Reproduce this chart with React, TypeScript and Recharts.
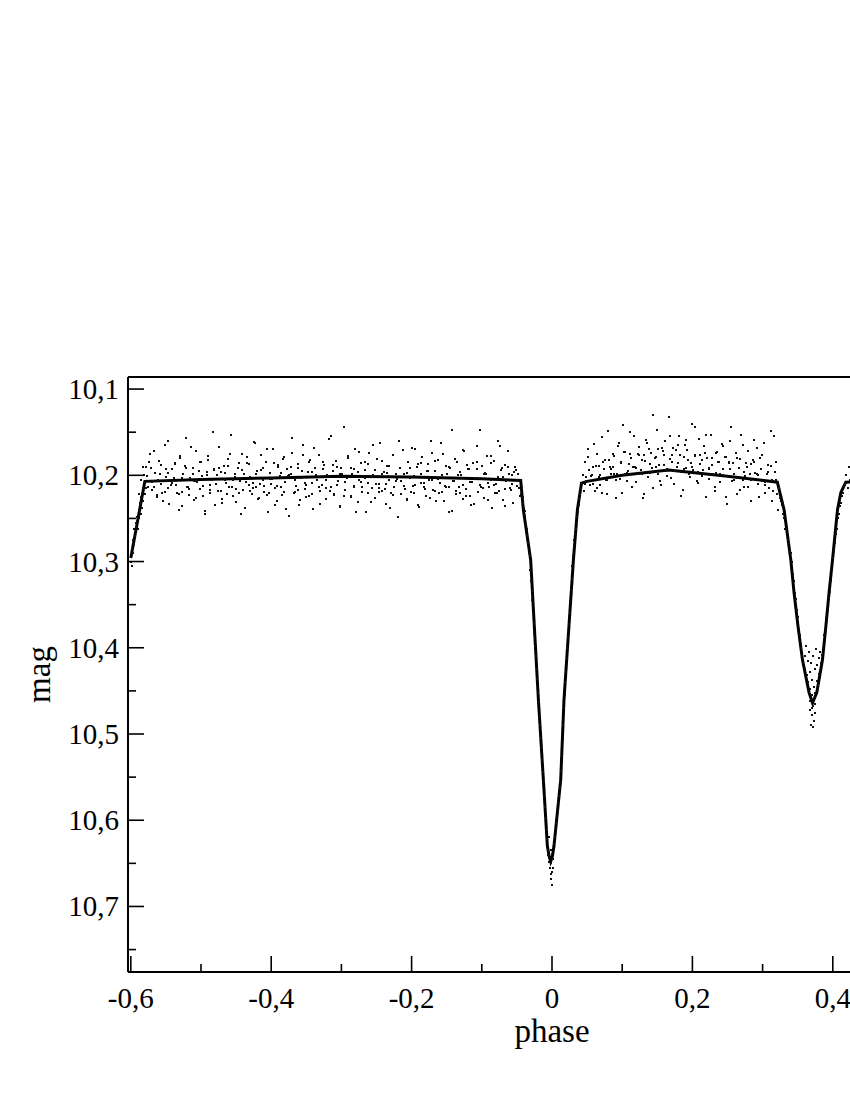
import { ComposedChart, Scatter, Line, XAxis, YAxis } from 'recharts';

// solid model curve
const modelPhase = [-0.6, -0.58, -0.5, -0.4, -0.3, -0.2, -0.1, -0.0446, -0.0408, -0.0304, -0.0194, -0.0123, -0.0066, -0.004, -0.0019, 0.0005, 0.0028, 0.0124, 0.0171, 0.0305, 0.0362, 0.042, 0.05, 0.1, 0.166, 0.25, 0.321, 0.3306, 0.3402, 0.3448, 0.3506, 0.3568, 0.3662, 0.3711, 0.3772, 0.3853, 0.39, 0.3947, 0.3996, 0.4067, 0.4115, 0.4185, 0.5, 0.6];
const modelMag = [10.296, 10.207, 10.205, 10.203, 10.201, 10.202, 10.204, 10.206, 10.24, 10.298, 10.46, 10.553, 10.63, 10.642, 10.648, 10.642, 10.63, 10.553, 10.46, 10.298, 10.24, 10.209, 10.207, 10.2, 10.194, 10.201, 10.208, 10.24, 10.298, 10.336, 10.376, 10.414, 10.452, 10.464, 10.452, 10.414, 10.376, 10.336, 10.298, 10.24, 10.22, 10.208, 10.206, 10.205];

// observed points [phase, mag]
const edgeDots = [[-0.6,10.3],[-0.599,10.285],[-0.598,10.29],[-0.597,10.275],[-0.596,10.28],[-0.595,10.262],[-0.594,10.27],[-0.593,10.255],[-0.592,10.26],[-0.591,10.248],[-0.59,10.262],[-0.589,10.24],[-0.588,10.25],[-0.587,10.232],[-0.586,10.245],[-0.585,10.225],[-0.584,10.238],[-0.583,10.215],[-0.582,10.23],[-0.581,10.2],[-0.58,10.222],[-0.599,10.305],[-0.597,10.29],[-0.595,10.275],[-0.589,10.222],[-0.586,10.205],[-0.583,10.19]];

const flatDots = [[-0.578,10.19],[-0.575,10.213],[-0.573,10.175],[-0.57,10.217],[-0.568,10.207],[-0.565,10.197],[-0.562,10.225],[-0.56,10.183],[-0.557,10.21],[-0.555,10.22],
[-0.552,10.165],[-0.55,10.202],[-0.547,10.215],[-0.545,10.233],[-0.542,10.193],[-0.54,10.205],[-0.537,10.187],[-0.535,10.211],[-0.532,10.24],[-0.53,10.18],
[-0.527,10.219],[-0.525,10.199],[-0.522,10.157],[-0.52,10.214],[-0.517,10.223],[-0.515,10.203],[-0.512,10.191],[-0.51,10.229],[-0.507,10.172],[-0.505,10.208],
[-0.502,10.216],[-0.5,10.185],[-0.497,10.212],[-0.495,10.245],[-0.492,10.196],[-0.49,10.178],[-0.487,10.221],[-0.485,10.206],[-0.482,10.194],[-0.48,10.235],
[-0.477,10.2],[-0.475,10.167],[-0.472,10.218],[-0.47,10.227],[-0.467,10.189],[-0.465,10.209],[-0.462,10.181],[-0.46,10.214],[-0.457,10.153],[-0.455,10.224],
[-0.452,10.198],[-0.45,10.231],[-0.447,10.192],[-0.445,10.207],[-0.442,10.175],[-0.44,10.217],[-0.437,10.238],[-0.435,10.186],[-0.432,10.211],[-0.43,10.202],
[-0.427,10.222],[-0.425,10.161],[-0.422,10.213],[-0.42,10.195],[-0.417,10.226],[-0.415,10.177],[-0.412,10.205],[-0.41,10.219],[-0.407,10.184],[-0.405,10.243],
[-0.402,10.197],[-0.4,10.21],[-0.397,10.17],[-0.395,10.215],[-0.392,10.23],[-0.39,10.19],[-0.387,10.201],[-0.385,10.223],[-0.382,10.179],[-0.38,10.208],
[-0.377,10.193],[-0.375,10.247],[-0.372,10.199],[-0.37,10.174],[-0.367,10.22],[-0.365,10.212],[-0.362,10.187],[-0.36,10.234],[-0.357,10.203],[-0.355,10.165],
[-0.352,10.216],[-0.35,10.225],[-0.347,10.196],[-0.345,10.182],[-0.342,10.209],[-0.34,10.239],[-0.337,10.191],[-0.335,10.206],[-0.332,10.176],[-0.33,10.218],
[-0.327,10.211],[-0.325,10.188],[-0.322,10.228],[-0.32,10.2],[-0.317,10.158],[-0.315,10.214],[-0.312,10.195],[-0.31,10.222],[-0.307,10.183],[-0.305,10.207],
[-0.302,10.236],[-0.3,10.192],[-0.297,10.144],[-0.295,10.217],[-0.292,10.203],[-0.29,10.178],[-0.287,10.224],[-0.285,10.198],[-0.282,10.212],[-0.28,10.169],
[-0.277,10.231],[-0.275,10.205],[-0.272,10.186],[-0.27,10.219],[-0.267,10.194],[-0.265,10.242],[-0.262,10.209],[-0.26,10.174],[-0.257,10.215],[-0.255,10.2],
[-0.252,10.226],[-0.25,10.181],[-0.247,10.21],[-0.245,10.163],[-0.242,10.218],[-0.24,10.196],[-0.237,10.233],[-0.235,10.189],[-0.232,10.206],[-0.23,10.221],
[-0.227,10.177],[-0.225,10.213],[-0.222,10.199],[-0.22,10.248],[-0.217,10.192],[-0.215,10.207],[-0.212,10.171],[-0.21,10.216],[-0.207,10.229],[-0.205,10.185],
[-0.202,10.203],[-0.2,10.168],[-0.197,10.22],[-0.195,10.211],[-0.192,10.19],[-0.19,10.237],[-0.187,10.198],[-0.185,10.179],[-0.182,10.214],[-0.18,10.224],
[-0.177,10.187],[-0.175,10.205],[-0.172,10.16],[-0.17,10.217],[-0.167,10.195],[-0.165,10.23],[-0.162,10.182],[-0.16,10.209],[-0.157,10.219],[-0.155,10.175],
[-0.152,10.212],[-0.15,10.198],[-0.147,10.243],[-0.145,10.191],[-0.142,10.148],[-0.14,10.207],[-0.137,10.222],[-0.135,10.184],[-0.132,10.213],[-0.13,10.2],
[-0.127,10.227],[-0.125,10.172],[-0.122,10.216],[-0.12,10.193],[-0.117,10.208],[-0.115,10.235],[-0.112,10.186],[-0.11,10.203],[-0.107,10.166],[-0.105,10.219],
[-0.102,10.211],[-0.1,10.189],[-0.097,10.226],[-0.095,10.197],[-0.092,10.178],[-0.09,10.214],[-0.087,10.205],[-0.085,10.238],[-0.082,10.183],[-0.08,10.21],
[-0.077,10.16],[-0.075,10.218],[-0.072,10.194],[-0.07,10.229],[-0.067,10.188],[-0.065,10.207],[-0.062,10.172],[-0.06,10.215],[-0.057,10.2],[-0.055,10.232],
[-0.052,10.19],[-0.05,10.212],[-0.048,10.198],[-0.046,10.224]];

const flatDotsB = [[-0.5785,10.215],[-0.5745,10.185],[-0.5705,10.208],[-0.5665,10.172],[-0.5625,10.223],[-0.5585,10.198],[-0.5545,10.23],[-0.5505,10.193],[-0.5465,10.16],[-0.5425,10.211],
[-0.5385,10.203],[-0.5345,10.22],[-0.5305,10.178],[-0.5265,10.236],[-0.5225,10.189],[-0.5185,10.213],[-0.5145,10.167],[-0.5105,10.207],[-0.5065,10.226],[-0.5025,10.195],
[-0.4985,10.201],[-0.4945,10.241],[-0.4905,10.182],[-0.4865,10.217],[-0.4825,10.15],[-0.4785,10.21],[-0.4745,10.191],[-0.4705,10.232],[-0.4665,10.197],[-0.4625,10.222],
[-0.4585,10.175],[-0.4545,10.205],[-0.4505,10.216],[-0.4465,10.186],[-0.4425,10.245],[-0.4385,10.199],[-0.4345,10.179],[-0.4305,10.218],[-0.4265,10.209],[-0.4225,10.163],
[-0.4185,10.227],[-0.4145,10.194],[-0.4105,10.212],[-0.4065,10.17],[-0.4025,10.221],[-0.3985,10.204],[-0.3945,10.234],[-0.3905,10.188],[-0.3865,10.214],[-0.3825,10.181],
[-0.3785,10.239],[-0.3745,10.2],[-0.3705,10.157],[-0.3665,10.219],[-0.3625,10.192],[-0.3585,10.229],[-0.3545,10.176],[-0.3505,10.211],[-0.3465,10.224],[-0.3425,10.196],
[-0.3385,10.168],[-0.3345,10.206],[-0.3305,10.233],[-0.3265,10.184],[-0.3225,10.215],[-0.3185,10.202],[-0.3145,10.155],[-0.3105,10.223],[-0.3065,10.19],[-0.3025,10.237],
[-0.2985,10.198],[-0.2945,10.208],[-0.2905,10.18],[-0.2865,10.225],[-0.2825,10.193],[-0.2785,10.243],[-0.2745,10.173],[-0.2705,10.213],[-0.2665,10.203],[-0.2625,10.187],
[-0.2585,10.231],[-0.2545,10.165],[-0.2505,10.21],[-0.2465,10.219],[-0.2425,10.183],[-0.2385,10.216],[-0.2345,10.197],[-0.2305,10.238],[-0.2265,10.177],[-0.2225,10.207],
[-0.2185,10.16],[-0.2145,10.222],[-0.2105,10.199],[-0.2065,10.228],[-0.2025,10.191],[-0.1985,10.212],[-0.1945,10.169],[-0.1905,10.235],[-0.1865,10.186],[-0.1825,10.209],
[-0.1785,10.195],[-0.1745,10.226],[-0.1705,10.174],[-0.1665,10.218],[-0.1625,10.204],[-0.1585,10.162],[-0.1545,10.23],[-0.1505,10.189],[-0.1465,10.214],[-0.1425,10.241],
[-0.1385,10.181],[-0.1345,10.2],[-0.1305,10.22],[-0.1265,10.171],[-0.1225,10.224],[-0.1185,10.193],[-0.1145,10.208],[-0.1105,10.233],[-0.1065,10.185],[-0.1025,10.147],
[-0.0985,10.215],[-0.0945,10.198],[-0.0905,10.229],[-0.0865,10.178],[-0.0825,10.211],[-0.0785,10.221],[-0.0745,10.166],[-0.0705,10.202],[-0.0665,10.236],[-0.0625,10.19],
[-0.0585,10.217],[-0.0545,10.196],[-0.0505,10.206]];

const flatCoreDots = [[-0.5765,10.201],[-0.5715,10.192],[-0.5665,10.214],[-0.5615,10.205],[-0.5565,10.188],[-0.5515,10.219],[-0.5465,10.197],[-0.5415,10.209],[-0.5365,10.186],[-0.5315,10.222],
[-0.5265,10.203],[-0.5215,10.191],[-0.5165,10.216],[-0.5115,10.198],[-0.5065,10.207],[-0.5015,10.184],[-0.4965,10.224],[-0.4915,10.2],[-0.4865,10.211],[-0.4815,10.193],
[-0.4765,10.218],[-0.4715,10.196],[-0.4665,10.205],[-0.4615,10.189],[-0.4565,10.213],[-0.4515,10.202],[-0.4465,10.221],[-0.4415,10.194],[-0.4365,10.208],[-0.4315,10.187],
[-0.4265,10.215],[-0.4215,10.199],[-0.4165,10.21],[-0.4115,10.192],[-0.4065,10.223],[-0.4015,10.204],[-0.3965,10.186],[-0.3915,10.212],[-0.3865,10.197],[-0.3815,10.219],
[-0.3765,10.201],[-0.3715,10.19],[-0.3665,10.206],[-0.3615,10.217],[-0.3565,10.195],[-0.3515,10.209],[-0.3465,10.184],[-0.3415,10.222],[-0.3365,10.2],[-0.3315,10.213],
[-0.3265,10.193],[-0.3215,10.205],[-0.3165,10.218],[-0.3115,10.188],[-0.3065,10.211],[-0.3015,10.198],[-0.2965,10.224],[-0.2915,10.203],[-0.2865,10.191],[-0.2815,10.214],
[-0.2765,10.196],[-0.2715,10.208],[-0.2665,10.185],[-0.2615,10.22],[-0.2565,10.202],[-0.2515,10.194],[-0.2465,10.215],[-0.2415,10.199],[-0.2365,10.21],[-0.2315,10.189],
[-0.2265,10.223],[-0.2215,10.204],[-0.2165,10.192],[-0.2115,10.212],[-0.2065,10.197],[-0.2015,10.219],[-0.1965,10.201],[-0.1915,10.187],[-0.1865,10.209],[-0.1815,10.216],
[-0.1765,10.195],[-0.1715,10.206],[-0.1665,10.183],[-0.1615,10.221],[-0.1565,10.2],[-0.1515,10.213],[-0.1465,10.19],[-0.1415,10.207],[-0.1365,10.218],[-0.1315,10.196],
[-0.1265,10.211],[-0.1215,10.188],[-0.1165,10.224],[-0.1115,10.203],[-0.1065,10.193],[-0.1015,10.214],[-0.0965,10.198],[-0.0915,10.209],[-0.0865,10.186],[-0.0815,10.22],
[-0.0765,10.202],[-0.0715,10.191],[-0.0665,10.216],[-0.0615,10.199],[-0.0565,10.21],[-0.0515,10.194]];

const primaryInDots = [[-0.047,10.215],[-0.0455,10.205],[-0.0445,10.222],[-0.043,10.215],[-0.042,10.232],[-0.041,10.225],[-0.04,10.238],[-0.039,10.241],[-0.038,10.247],[-0.037,10.258],
[-0.036,10.262],[-0.035,10.27],[-0.034,10.279],[-0.033,10.29],[-0.032,10.294],[-0.031,10.31],[-0.03,10.322],[-0.029,10.334],[-0.028,10.345],[-0.027,10.36],
[-0.026,10.372],[-0.025,10.383],[-0.024,10.398],[-0.023,10.41],[-0.022,10.425],[-0.021,10.436],[-0.02,10.452],[-0.019,10.463],[-0.018,10.48],[-0.017,10.49],
[-0.016,10.505],[-0.015,10.516],[-0.014,10.53],[-0.013,10.544],[-0.012,10.556],[-0.011,10.572],[-0.01,10.585],[-0.009,10.597],[-0.008,10.611],[-0.007,10.622],
[-0.006,10.634],[-0.005,10.64],[-0.004,10.648],[-0.003,10.655],[-0.002,10.662],[-0.001,10.668],[0,10.675],[-0.0015,10.65],[0.0005,10.66],[-0.004,10.62],[-0.002,10.635]];

const primaryOutDots = [[0.001,10.655],[0.002,10.645],[0.003,10.628],[0.004,10.62],[0.005,10.61],[0.006,10.603],[0.007,10.595],[0.008,10.588],[0.009,10.58],[0.01,10.572],
[0.011,10.563],[0.012,10.556],[0.013,10.543],[0.014,10.525],[0.015,10.507],[0.016,10.49],[0.017,10.47],[0.018,10.455],[0.019,10.44],[0.02,10.428],
[0.021,10.413],[0.022,10.4],[0.023,10.388],[0.024,10.373],[0.025,10.36],[0.026,10.347],[0.027,10.333],[0.028,10.32],[0.029,10.305],[0.03,10.294],
[0.031,10.283],[0.032,10.275],[0.033,10.268],[0.034,10.262],[0.035,10.254],[0.036,10.248],[0.037,10.243],[0.038,10.235],[0.039,10.228],[0.04,10.222],
[0.041,10.216],[0.0425,10.21],[0.044,10.2],[0.045,10.218]];

const midDots = [[0.0465,10.185],[0.049,10.207],[0.0515,10.169],[0.054,10.211],[0.0565,10.2],[0.059,10.19],[0.0615,10.218],[0.064,10.175],[0.0665,10.202],[0.069,10.211],
[0.0715,10.156],[0.074,10.193],[0.0765,10.205],[0.079,10.222],[0.0815,10.182],[0.084,10.193],[0.0865,10.175],[0.089,10.198],[0.0915,10.226],[0.094,10.166],
[0.0965,10.204],[0.099,10.184],[0.1015,10.142],[0.104,10.199],[0.1065,10.207],[0.109,10.187],[0.1115,10.175],[0.114,10.213],[0.1165,10.155],[0.119,10.191],
[0.1215,10.198],[0.124,10.167],[0.1265,10.194],[0.129,10.226],[0.1315,10.177],[0.134,10.159],[0.1365,10.202],[0.139,10.187],[0.1415,10.174],[0.144,10.215],
[0.1465,10.18],[0.149,10.147],[0.1515,10.198],[0.154,10.207],[0.1565,10.168],[0.159,10.188],[0.1615,10.16],[0.164,10.193],[0.1665,10.132],[0.169,10.203],
[0.1715,10.177],[0.174,10.21],[0.1765,10.171],[0.179,10.186],[0.1815,10.154],[0.184,10.196],[0.1865,10.217],[0.189,10.165],[0.1915,10.191],[0.194,10.182],
[0.1965,10.202],[0.199,10.141],[0.2015,10.194],[0.204,10.176],[0.2065,10.207],[0.209,10.158],[0.2115,10.187],[0.214,10.201],[0.2165,10.166],[0.219,10.225],
[0.2215,10.18],[0.224,10.193],[0.2265,10.153],[0.229,10.198],[0.2315,10.214],[0.234,10.174],[0.2365,10.185],[0.239,10.208],[0.2415,10.164],[0.244,10.193],
[0.2465,10.179],[0.249,10.233],[0.2515,10.185],[0.254,10.16],[0.2565,10.207],[0.259,10.199],[0.2615,10.174],[0.264,10.222],[0.2665,10.191],[0.269,10.153],
[0.2715,10.205],[0.274,10.214],[0.2765,10.186],[0.279,10.172],[0.2815,10.199],[0.284,10.23],[0.2865,10.182],[0.289,10.197],[0.2915,10.168],[0.294,10.21],
[0.2965,10.18],[0.299,10.207],[0.3015,10.162],[0.304,10.221],[0.3065,10.198],[0.309,10.215],[0.3115,10.189],[0.314,10.23],[0.3165,10.155],[0.319,10.206],
[0.321,10.222],[0.3225,10.24]];

const midDotsB = [[0.0475,10.21],[0.0515,10.179],[0.0555,10.201],[0.0595,10.164],[0.0635,10.215],[0.0675,10.189],[0.0715,10.22],[0.0755,10.182],[0.0795,10.149],[0.0835,10.199],
[0.0875,10.19],[0.0915,10.206],[0.0955,10.163],[0.0995,10.221],[0.1035,10.173],[0.1075,10.197],[0.1115,10.15],[0.1155,10.19],[0.1195,10.208],[0.1235,10.177],
[0.1275,10.182],[0.1315,10.222],[0.1355,10.163],[0.1395,10.197],[0.1435,10.13],[0.1475,10.19],[0.1515,10.17],[0.1555,10.211],[0.1595,10.176],[0.1635,10.201],
[0.1675,10.154],[0.1715,10.184],[0.1755,10.195],[0.1795,10.165],[0.1835,10.224],[0.1875,10.179],[0.1915,10.159],[0.1955,10.198],[0.1995,10.19],[0.2035,10.144],
[0.2075,10.209],[0.2115,10.176],[0.2155,10.194],[0.2195,10.153],[0.2235,10.204],[0.2275,10.188],[0.2315,10.218],[0.2355,10.173],[0.2395,10.199],[0.2435,10.166],
[0.2475,10.225],[0.2515,10.186],[0.2555,10.144],[0.2595,10.206],[0.2635,10.18],[0.2675,10.217],[0.2715,10.165],[0.2755,10.201],[0.2795,10.214],[0.2835,10.187],
[0.2875,10.159],[0.2915,10.198],[0.2955,10.225],[0.2995,10.177],[0.3035,10.208],[0.3075,10.196],[0.3115,10.149],[0.3155,10.218],[0.3195,10.185]];

const midCoreDots = [[0.048,10.202],[0.053,10.194],[0.058,10.21],[0.063,10.189],[0.068,10.2],[0.073,10.185],[0.078,10.205],[0.083,10.19],[0.088,10.178],[0.093,10.199],
[0.098,10.186],[0.103,10.173],[0.108,10.195],[0.113,10.18],[0.118,10.19],[0.123,10.175],[0.128,10.198],[0.133,10.183],[0.138,10.17],[0.143,10.192],
[0.148,10.179],[0.153,10.188],[0.158,10.172],[0.163,10.195],[0.168,10.181],[0.173,10.168],[0.178,10.19],[0.183,10.176],[0.188,10.193],[0.193,10.171],
[0.198,10.186],[0.203,10.178],[0.208,10.196],[0.213,10.182],[0.218,10.174],[0.223,10.191],[0.228,10.18],[0.233,10.197],[0.238,10.184],[0.243,10.2],
[0.248,10.179],[0.253,10.193],[0.258,10.186],[0.263,10.203],[0.268,10.181],[0.273,10.196],[0.278,10.19],[0.283,10.205],[0.288,10.185],[0.293,10.2],
[0.298,10.193],[0.303,10.211],[0.308,10.188],[0.313,10.205],[0.318,10.196]];

const secondaryInDots = [[0.3235,10.215],[0.325,10.226],[0.3265,10.23],[0.328,10.235],[0.3295,10.245],[0.331,10.25],[0.3325,10.262],[0.334,10.262],[0.3355,10.275],[0.337,10.278],
[0.3385,10.288],[0.34,10.29],[0.3415,10.3],[0.343,10.315],[0.3445,10.322],[0.346,10.336],[0.3475,10.343],[0.349,10.356],[0.3505,10.364],[0.352,10.378],
[0.3535,10.385],[0.355,10.4],[0.3565,10.41],[0.358,10.418]];

const secondaryBottomDots = [[0.36,10.41],[0.361,10.425],[0.362,10.398],[0.363,10.432],[0.364,10.415],[0.365,10.44],[0.366,10.405],[0.367,10.428],[0.368,10.448],[0.369,10.418],
[0.37,10.437],[0.371,10.455],[0.372,10.41],[0.373,10.445],[0.374,10.425],[0.375,10.452],[0.376,10.402],[0.377,10.438],[0.378,10.42],[0.379,10.443],
[0.38,10.412],[0.381,10.43],[0.382,10.405],[0.383,10.418],[0.37,10.47],[0.371,10.478],[0.372,10.468],[0.373,10.485],[0.368,10.472],[0.374,10.476],
[0.369,10.49],[0.372,10.492],[0.375,10.465],[0.367,10.462]];

const secondaryOutDots = [[0.385,10.408],[0.3865,10.4],[0.388,10.385],[0.3895,10.378],[0.391,10.365],[0.3925,10.356],[0.394,10.342],[0.3955,10.335],[0.397,10.322],[0.3985,10.31],
[0.4,10.296],[0.4015,10.286],[0.403,10.278],[0.4045,10.268],[0.406,10.262],[0.4075,10.25],[0.409,10.245],[0.4105,10.236],[0.412,10.232],[0.4135,10.224],
[0.415,10.22],[0.4165,10.212],[0.418,10.21],[0.4195,10.2],[0.421,10.215],[0.4225,10.19],[0.424,10.205],[0.4255,10.22],[0.427,10.185],[0.4285,10.21],[0.43,10.198]];

// ticks
const xMajorTicks = [-0.6, -0.4, -0.2, 0, 0.2, 0.4, 0.6];
const xMinorTicks = [-0.5, -0.3, -0.1, 0.1, 0.3, 0.5];
const yMajorTicks = [10.1, 10.2, 10.3, 10.4, 10.5, 10.6, 10.7];
const yMinorTicks = [10.15, 10.25, 10.35, 10.45, 10.55, 10.65, 10.75];

const FONT = "'Liberation Serif', 'DejaVu Serif', 'Times New Roman', serif";

const toPoints = (arr: number[][]) => arr.map(([phase, mag]) => ({ phase, mag }));

const dots = toPoints([
  ...edgeDots, ...flatDots, ...flatDotsB, ...flatCoreDots, ...primaryInDots, ...primaryOutDots,
  ...midDots, ...midDotsB, ...midCoreDots, ...secondaryInDots, ...secondaryBottomDots, ...secondaryOutDots,
]);
const model = modelPhase.map((phase, i) => ({ phase, mag: modelMag[i] }));

const xTicks = [...xMajorTicks, ...xMinorTicks].sort((a, b) => a - b);
const yTicks = [...yMajorTicks, ...yMinorTicks].sort((a, b) => a - b);

const fmt = (v: number) => (v === 0 ? '0' : String(v).replace('.', ','));

function XTick(props: any) {
  const { x, y, payload, top } = props;
  const major = xMajorTicks.includes(payload.value);
  const len = major ? 16 : 8;
  return (
    <g>
      <line x1={x} x2={x} y1={y} y2={top ? y + len : y - len} stroke="#000" strokeWidth={1.6} />
      {!top && major && (
        <text x={x} y={y + 36} textAnchor="middle" fontSize={29} fontFamily={FONT} fill="#000">
          {fmt(payload.value)}
        </text>
      )}
    </g>
  );
}

function YTick(props: any) {
  const { x, y, payload } = props;
  const major = yMajorTicks.includes(payload.value);
  const len = major ? 16 : 8;
  return (
    <g>
      <line x1={x} x2={x + len} y1={y} y2={y} stroke="#000" strokeWidth={1.6} />
      {major && (
        <text x={x - 9} y={y + 10} textAnchor="end" fontSize={29} fontFamily={FONT} fill="#000">
          {fmt(payload.value)}
        </text>
      )}
    </g>
  );
}

// tiny square marker snapped to the pixel grid
const Dot = (props: any) => (
  <rect x={Math.round(props.cx) - 1} y={Math.round(props.cy) - 1} width={2} height={2} fill="#111" />
);

export default function App() {
  return (
    <div style={{ position: 'absolute', left: 0, top: 0, width: 850, height: 1100, overflow: 'hidden', background: '#fff' }}>
      <ComposedChart width={996} height={1100} margin={{ top: 367, right: 20, bottom: 0, left: 0 }}>
        <XAxis
          xAxisId="top"
          orientation="top"
          type="number"
          domain={[-0.604, 0.604]}
          allowDataOverflow
          ticks={xTicks}
          interval={0}
          tickSize={0}
          tickMargin={0}
          tick={(p: any) => <XTick {...p} top />}
          axisLine={{ stroke: '#000', strokeWidth: 2 }}
          height={10}
        />
        <XAxis
          dataKey="phase"
          type="number"
          domain={[-0.604, 0.604]}
          allowDataOverflow
          ticks={xTicks}
          interval={0}
          tickSize={0}
          tickMargin={0}
          tick={(p: any) => <XTick {...p} />}
          axisLine={{ stroke: '#000', strokeWidth: 2 }}
          height={128}
          label={{
            content: (p: any) => (
              <text
                x={p.viewBox.x + p.viewBox.width / 2}
                y={p.viewBox.y + 70}
                textAnchor="middle"
                fontSize={33}
                fontFamily={FONT}
                fill="#000"
              >
                phase
              </text>
            ),
          }}
        />
        <YAxis
          dataKey="mag"
          type="number"
          reversed
          domain={[10.086, 10.776]}
          allowDataOverflow
          ticks={yTicks}
          interval={0}
          tickSize={0}
          tickMargin={0}
          tick={(p: any) => <YTick {...p} />}
          axisLine={{ stroke: '#000', strokeWidth: 2 }}
          width={128}
          label={{
            content: (p: any) => {
              const cy = p.viewBox.y + p.viewBox.height / 2;
              return (
                <text
                  x={50}
                  y={cy}
                  transform={`rotate(-90, 50, ${cy})`}
                  textAnchor="middle"
                  fontSize={33}
                  fontFamily={FONT}
                  fill="#000"
                >
                  mag
                </text>
              );
            },
          }}
        />
        <Scatter data={dots} dataKey="mag" shape={Dot} isAnimationActive={false} />
        <Line
          data={model}
          dataKey="mag"
          type="linear"
          stroke="#000"
          strokeWidth={3}
          dot={false}
          activeDot={false}
          isAnimationActive={false}
        />
      </ComposedChart>
    </div>
  );
}
